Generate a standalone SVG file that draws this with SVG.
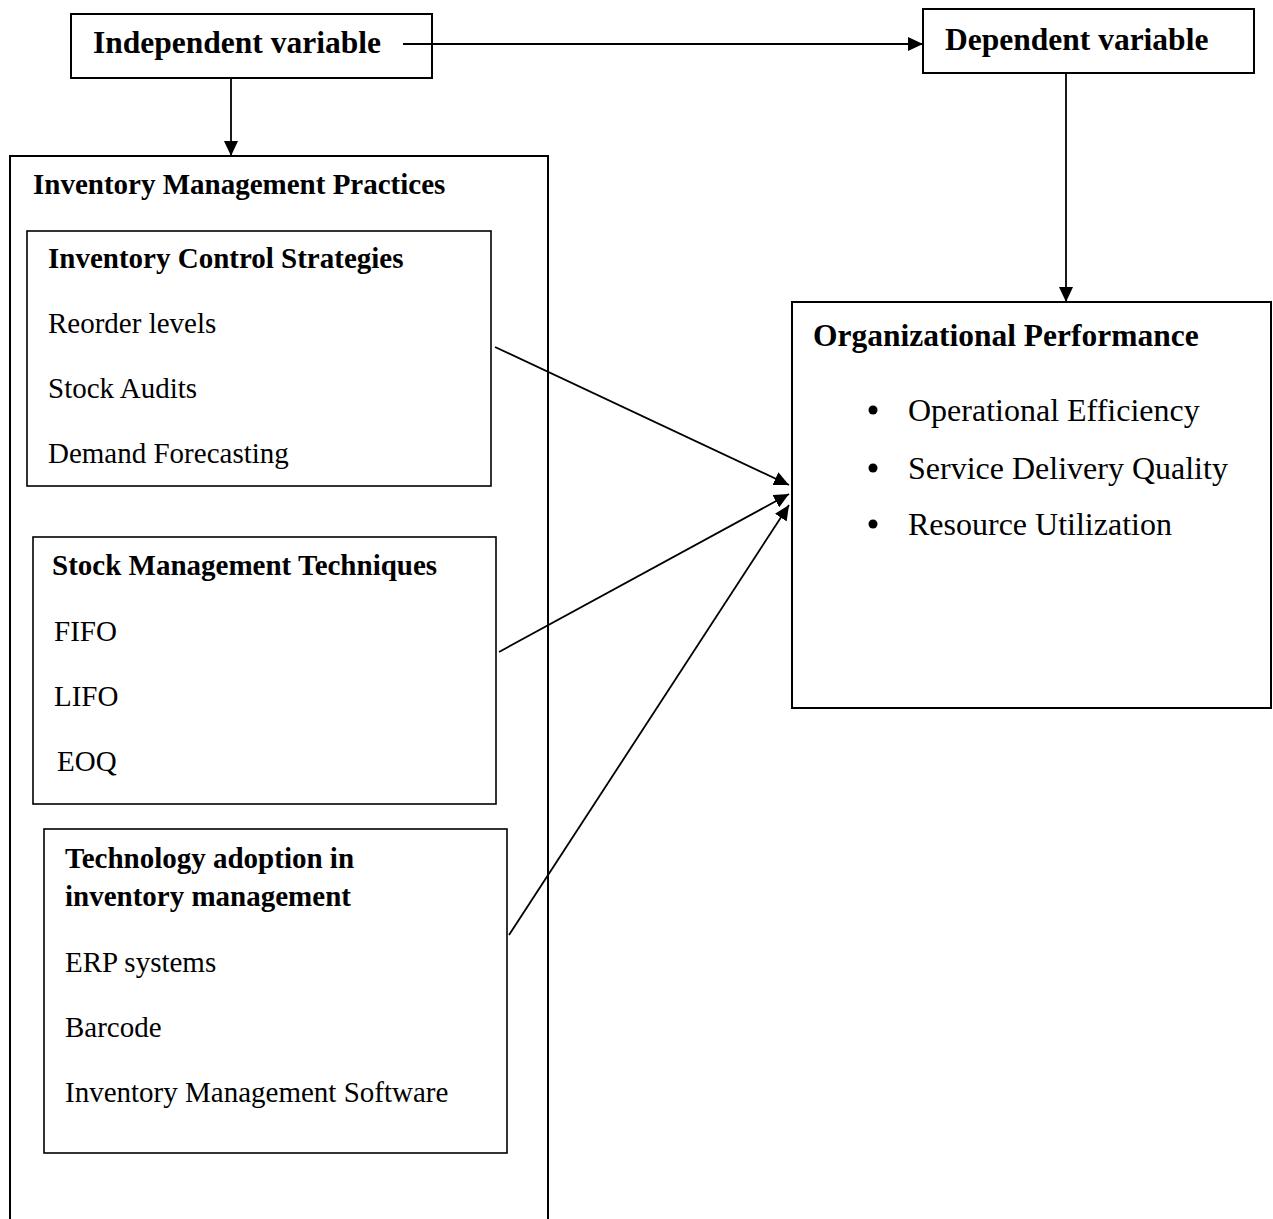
<svg xmlns="http://www.w3.org/2000/svg" width="1273" height="1219" viewBox="0 0 1273 1219">
<style>
.box{fill:none;stroke:#000;stroke-width:2}
.ib{fill:none;stroke:#000;stroke-width:1.6}
.h1{font-family:"Liberation Serif","Times New Roman",serif;font-weight:bold;font-size:31.5px;fill:#000}
.h2{font-family:"Liberation Serif","Times New Roman",serif;font-weight:bold;font-size:29px;fill:#000}
.t2{font-family:"Liberation Serif","Times New Roman",serif;font-size:29px;fill:#000}
.t1{font-family:"Liberation Serif","Times New Roman",serif;font-size:32px;fill:#000}
.con{fill:none;stroke:#000;stroke-width:1.8}
</style>
<defs>
<marker id="ah" viewBox="0 0 15 14" refX="15" refY="7" markerWidth="15" markerHeight="14" markerUnits="userSpaceOnUse" orient="auto">
<path d="M0,0 L15,7 L0,14 Z" fill="#000"/>
</marker>
</defs>
<rect width="1273" height="1219" fill="#fff"/>
<g id="independent">
<rect class="box" x="71" y="14" width="361" height="64"/>
<text class="h1" x="93" y="53">Independent variable</text>
</g>
<g id="dependent">
<rect class="box" x="923" y="9" width="331" height="64"/>
<text class="h1" x="945" y="50">Dependent variable</text>
</g>
<g id="practices">
<rect class="box" x="10" y="156" width="538" height="1080"/>
<text class="h2" x="33" y="194">Inventory Management Practices</text>
</g>
<g id="control">
<rect class="ib" x="27" y="231" width="464" height="255"/>
<text class="h2" x="48" y="268">Inventory Control Strategies</text>
<text class="t2" x="48" y="333">Reorder levels</text>
<text class="t2" x="48" y="398">Stock Audits</text>
<text class="t2" x="48" y="463">Demand Forecasting</text>
</g>
<g id="stock">
<rect class="ib" x="33" y="537" width="463" height="267"/>
<text class="h2" x="52" y="575">Stock Management Techniques</text>
<text class="t2" x="54" y="641">FIFO</text>
<text class="t2" x="54" y="706">LIFO</text>
<text class="t2" x="57" y="771">EOQ</text>
</g>
<g id="technology">
<rect class="ib" x="44" y="829" width="463" height="324"/>
<text class="h2" x="65" y="868">Technology adoption in</text>
<text class="h2" x="65" y="906">inventory management</text>
<text class="t2" x="65" y="972">ERP systems</text>
<text class="t2" x="65" y="1037">Barcode</text>
<text class="t2" x="65" y="1102">Inventory Management Software</text>
</g>
<g id="performance">
<rect class="box" x="792" y="302" width="479" height="406"/>
<text class="h1" x="813" y="346">Organizational Performance</text>
<circle cx="873" cy="410" r="4.5" fill="#000"/>
<circle cx="873" cy="468" r="4.5" fill="#000"/>
<circle cx="873" cy="524" r="4.5" fill="#000"/>
<text class="t1" x="908" y="421">Operational Efficiency</text>
<text class="t1" x="908" y="479">Service Delivery Quality</text>
<text class="t1" x="908" y="535">Resource Utilization</text>
</g>
<g id="connectors">
<line class="con" x1="403" y1="44" x2="923" y2="44" marker-end="url(#ah)"/>
<line class="con" x1="231" y1="78" x2="231" y2="156" marker-end="url(#ah)"/>
<line class="con" x1="1066" y1="73" x2="1066" y2="302" marker-end="url(#ah)"/>
<line class="con" x1="495" y1="347" x2="789" y2="485" marker-end="url(#ah)"/>
<line class="con" x1="499" y1="652" x2="789" y2="494" marker-end="url(#ah)"/>
<line class="con" x1="509" y1="935" x2="789" y2="505" marker-end="url(#ah)"/>
</g>
</svg>
